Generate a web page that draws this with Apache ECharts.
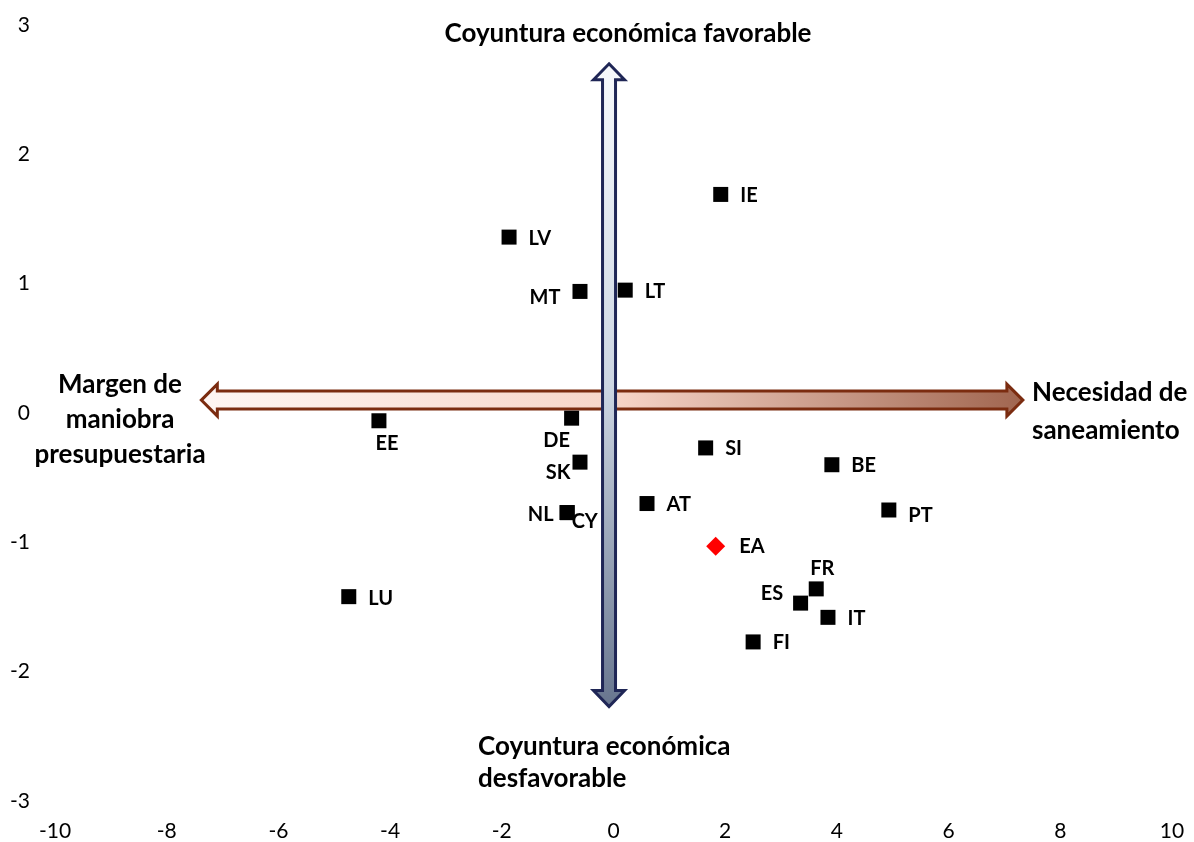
<!DOCTYPE html>
<html>
<head>
<meta charset="utf-8">
<script src="https://cdn.jsdelivr.net/npm/echarts@6/dist/echarts.min.js"></script>
<style>
html,body{margin:0;padding:0;background:#fff;}
#chart{width:1194px;height:842px;}
</style>
</head>
<body>
<div id="chart"></div>
<script>
// ---- data ----
const countries = ['IE','LV','MT','LT','EE','DE','SK','NL','CY','AT','SI','BE','PT','FR','ES','IT','FI','LU'];
const xValues   = [1.92,-1.87,-0.60,0.21,-4.20,-0.75,-0.60,-0.83,-0.83,0.60,1.65,3.91,4.93,3.63,3.35,3.84,2.50,-4.74];
const yValues   = [1.69,1.36,0.94,0.95,-0.06,-0.04,-0.38,-0.77,-0.77,-0.70,-0.27,-0.40,-0.75,-1.36,-1.47,-1.58,-1.77,-1.42];
const eaName = ['EA'];
const eaX = [1.83];
const eaY = [-1.03];
const xTicks = [-10,-8,-6,-4,-2,0,2,4,6,8,10];
const yTicks = [-3,-2,-1,0,1,2,3];
// arrow endpoints in data units: [x1, y1, x2, y2]
const hArrow = [-7.38, 0.10, 7.33, 0.10];
const vArrow = [-0.08, 2.70, -0.08, -2.27];

// ---- label placement (style) ----
const labelStyle = {
  MT: {position:'left', distance:12, offset:[0,6]},
  EE: {position:'bottom', distance:5, offset:[8,0]},
  DE: {position:'bottom', distance:5, offset:[-15,0]},
  SK: {position:'left', distance:2, offset:[0,10]},
  NL: {position:'left', distance:6, offset:[0,2]},
  CY: {position:'right', distance:-3, offset:[0,9]},
  FR: {position:'top', distance:3, offset:[6,0]},
  ES: {position:'left', distance:10, offset:[0,-10]},
  PT: {position:'right', distance:12, offset:[0,6]},
  LU: {position:'right', distance:12, offset:[0,2]}
};

const FONT = 'Lato';
const ANN = 'bold 26px ' + FONT;
const chart = echarts.init(document.getElementById('chart'));

const pts = countries.map((c,i) => {
  const ls = labelStyle[c] || {position:'right', distance:12, offset:[0,1]};
  return {name:c, value:[xValues[i], yValues[i]], label:Object.assign({}, ls)};
});
const eaPts = eaName.map((c,i) => ({name:c, value:[eaX[i], eaY[i]]}));

function arrowItem(params, api, horizontal) {
  const a = api.coord([api.value(0), api.value(1)]);
  const b = api.coord([api.value(2), api.value(3)]);
  const H = horizontal ? 32 : 31; // head width
  const s = horizontal ? 18 : 13; // shaft width
  const h = 16; // head length
  let pts;
  if (horizontal) {
    const y = a[1], x1 = a[0], x2 = b[0];
    pts = [[x1,y],[x1+h,y-H/2],[x1+h,y-s/2],[x2-h,y-s/2],[x2-h,y-H/2],[x2,y],
           [x2-h,y+H/2],[x2-h,y+s/2],[x1+h,y+s/2],[x1+h,y+H/2]];
  } else {
    const x = a[0], y1 = a[1], y2 = b[1];
    pts = [[x,y1],[x+H/2,y1+h],[x+s/2,y1+h],[x+s/2,y2-h],[x+H/2,y2-h],[x,y2],
           [x-H/2,y2-h],[x-s/2,y2-h],[x-s/2,y1+h],[x-H/2,y1+h]];
  }
  const fill = horizontal
    ? new echarts.graphic.LinearGradient(0,0,1,0,[
        {offset:0,color:'#fef6f3'},{offset:0.5,color:'#f7d6c9'},{offset:1,color:'#a0654f'}])
    : new echarts.graphic.LinearGradient(0,0,0,1,[
        {offset:0,color:'#f7f9fc'},{offset:0.5,color:'#cdd6e3'},{offset:1,color:'#67758e'}]);
  return {
    type:'polygon',
    shape:{points:pts},
    style:{fill:fill, stroke: horizontal ? '#7b2c10' : '#1f2656', lineWidth:3, lineJoin:'miter'}
  };
}

const option = {
  backgroundColor:'#fff',
  animation:false,
  grid:{left:55, right:22, top:25, bottom:40, containLabel:false},
  xAxis:{
    type:'value', min:xTicks[0], max:xTicks[xTicks.length-1], interval:2,
    axisLine:{show:false, onZero:false}, axisTick:{show:false}, splitLine:{show:false},
    axisLabel:{color:'#000', fontSize:21, fontFamily:FONT, margin:20}
  },
  yAxis:{
    type:'value', min:yTicks[0], max:yTicks[yTicks.length-1], interval:1,
    axisLine:{show:false, onZero:false}, axisTick:{show:false}, splitLine:{show:false},
    axisLabel:{color:'#000', fontSize:21, fontFamily:FONT, margin:25, align:'right'}
  },
  series:[
    {type:'custom', z:1, data:[hArrow], renderItem:(p,api)=>arrowItem(p,api,true), silent:true},
    {type:'custom', z:2, data:[vArrow], renderItem:(p,api)=>arrowItem(p,api,false), silent:true},
    {
      type:'scatter', z:5, symbol:'rect', symbolSize:15,
      itemStyle:{color:'#000', opacity:1},
      label:{show:true, formatter:'{b}', color:'#000', fontSize:20, fontWeight:'bold', fontFamily:FONT},
      data:pts
    },
    {
      type:'scatter', z:6, symbol:'diamond', symbolSize:19,
      itemStyle:{color:'#ff0000', opacity:1},
      label:{show:true, formatter:'{b}', position:'right', distance:14, color:'#000', fontSize:20, fontWeight:'bold', fontFamily:FONT},
      data:eaPts
    }
  ],
  graphic:[
    {type:'text', x:628, y:34, style:{text:'Coyuntura económica favorable', font:ANN, fill:'#000', textAlign:'center', textVerticalAlign:'middle'}},
    {type:'text', x:478, y:747, style:{text:'Coyuntura económica', font:ANN, fill:'#000', textAlign:'left', textVerticalAlign:'middle'}},
    {type:'text', x:478, y:779, style:{text:'desfavorable', font:ANN, fill:'#000', textAlign:'left', textVerticalAlign:'middle'}},
    {type:'text', x:120, y:385, style:{text:'Margen de', font:ANN, fill:'#000', textAlign:'center', textVerticalAlign:'middle'}},
    {type:'text', x:120, y:420, style:{text:'maniobra', font:ANN, fill:'#000', textAlign:'center', textVerticalAlign:'middle'}},
    {type:'text', x:120, y:455, style:{text:'presupuestaria', font:ANN, fill:'#000', textAlign:'center', textVerticalAlign:'middle'}},
    {type:'text', x:1032, y:393, style:{text:'Necesidad de', font:ANN, fill:'#000', textAlign:'left', textVerticalAlign:'middle'}},
    {type:'text', x:1032, y:431, style:{text:'saneamiento', font:ANN, fill:'#000', textAlign:'left', textVerticalAlign:'middle'}}
  ]
};
chart.setOption(option);
</script>
</body>
</html>
